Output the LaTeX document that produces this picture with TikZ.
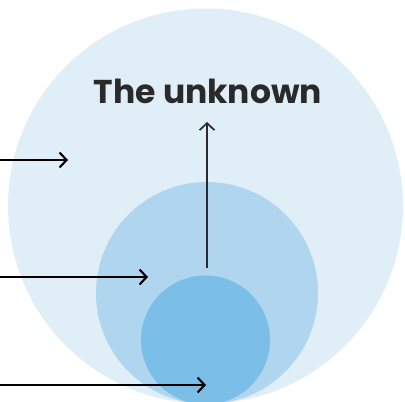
\documentclass[tikz,border=0pt]{standalone}
\usepackage{fontspec}
\setmainfont{Poppins}
\usetikzlibrary{arrows.meta}
\definecolor{cbig}{HTML}{E0EEF8}
\definecolor{cmid}{HTML}{B0D5EF}
\definecolor{csmall}{HTML}{7BBEE8}
\definecolor{txt}{HTML}{2A2A2A}
\tikzset{
  pointer/.style={line width=2.1pt,-{Straight Barb[length=7pt,width=15pt,line width=2.1pt]}},
  uparrow/.style={line width=1.7pt,draw=txt,-{Straight Barb[length=7pt,width=15pt,line width=1.7pt]}}
}
\begin{document}
\begin{tikzpicture}[x=1pt,y=-1pt]
\useasboundingbox (0,0) rectangle (405,402);
\clip (0,0) rectangle (405,402);
\fill[cbig] (205.5,206) circle (197.5);
\fill[cmid] (207,293) circle (111);
\fill[csmall] (205.5,340) circle (64.5);
\node[text=txt,font=\bfseries\fontsize{33}{33}\selectfont] (title) at (208,91) {The unknown};
\coordinate (s1) at (0,160);
\coordinate (e1) at (68,160);
\coordinate (s2) at (0,277);
\coordinate (e2) at (148,277);
\coordinate (s3) at (0,385);
\coordinate (e3) at (206,385);
\coordinate (us) at (207,268);
\coordinate (ue) at (207,122);
\draw[pointer] (s1) -- (e1);
\draw[pointer] (s2) -- (e2);
\draw[pointer] (s3) -- (e3);
\draw[uparrow] (us) -- (ue);
\end{tikzpicture}
\end{document}
